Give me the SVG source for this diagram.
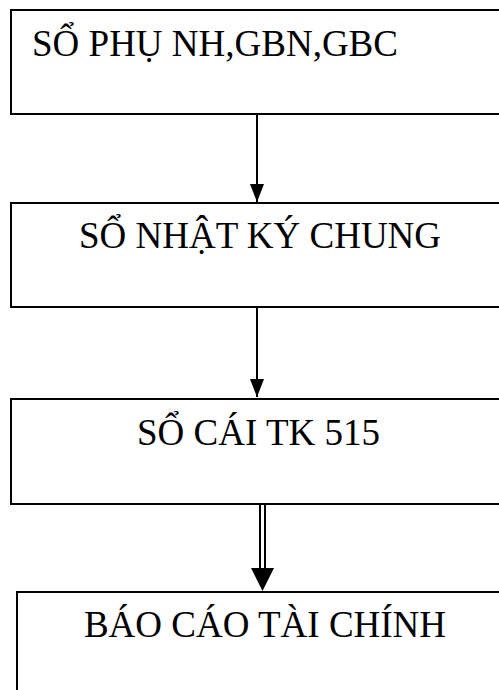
<svg xmlns="http://www.w3.org/2000/svg" width="499" height="690" viewBox="0 0 499 690">
<defs>
<style>
.box{fill:#fff;stroke:#000;stroke-width:2}
.lbl{font-family:"Liberation Serif","Times New Roman",serif;font-size:37px;fill:#000}
.ln{stroke:#000;stroke-width:2;fill:none}
</style>
<marker id="ah" markerUnits="userSpaceOnUse" markerWidth="18" markerHeight="14" refX="18" refY="7" orient="auto" viewBox="0 0 18 14">
<path d="M0,0 L18,7 L0,14 Z" fill="#000"/>
</marker>
</defs>
<rect width="499" height="690" fill="#fff"/>
<g id="node1">
<rect class="box" x="11" y="10" width="500" height="104"/>
<text class="lbl" x="32" y="56">SỔ PHỤ NH,GBN,GBC</text>
</g>
<g id="node2">
<rect class="box" x="11" y="203" width="500" height="104"/>
<text class="lbl" x="260" y="248" text-anchor="middle">SỔ NHẬT KÝ CHUNG</text>
</g>
<g id="node3">
<rect class="box" x="11" y="399" width="500" height="105"/>
<text class="lbl" x="258.5" y="445" text-anchor="middle">SỔ CÁI TK 515</text>
</g>
<g id="node4">
<rect class="box" x="17" y="592" width="500" height="110"/>
<text class="lbl" x="265" y="637" text-anchor="middle">BÁO CÁO TÀI CHÍNH</text>
</g>
<g id="connectors">
<line class="ln" x1="257" y1="115" x2="257" y2="202" marker-end="url(#ah)"/>
<line class="ln" x1="257" y1="308" x2="257" y2="397" marker-end="url(#ah)"/>
<line class="ln" x1="260" y1="505" x2="260" y2="570"/>
<line class="ln" x1="265" y1="505" x2="265" y2="570"/>
<path d="M251,568 L274,568 L262.5,591 Z" fill="#000"/>
</g>
</svg>
